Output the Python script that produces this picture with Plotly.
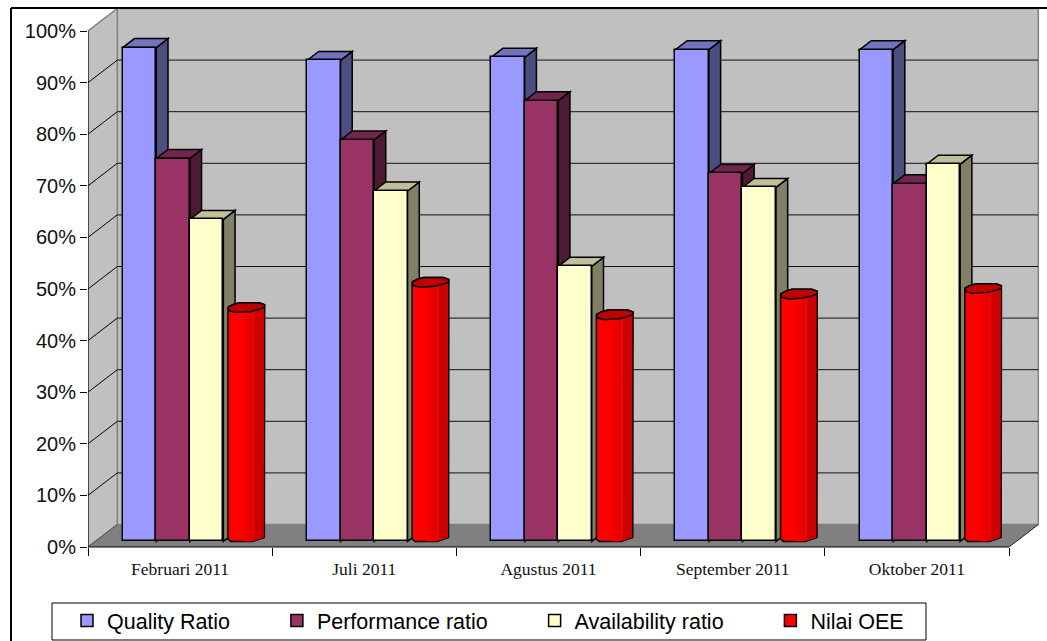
import numpy as np
import plotly.graph_objects as go

# Monthly OEE components, in percent
months = ["Februari 2011", "Juli 2011", "Agustus 2011", "September 2011", "Oktober 2011"]
quality_ratio = [95.7, 93.2, 93.8, 95.3, 95.3]
performance_ratio = [74.2, 77.8, 85.4, 71.3, 69.3]
availability_ratio = [62.4, 67.9, 53.3, 68.6, 73.1]
nilai_oee = [44.4, 49.3, 43.0, 47.0, 48.1]
y_ticks = list(range(0, 101, 10))

# Plot box in page pixels and the data ranges it shows
W, H = 1047, 641
ML, MR, MT, MB = 88, 4, 5, 94
X_MAX = 955 / 184.2
Y_MAX = 542 / 5.16
PX = 184.2   # pixels per category
PY = 5.16    # pixels per percentage point

# Oblique projection: depth 1 is the back wall
WALL_DX = 29.3 / PX
WALL_DY = 22.5 / PY
BAR_DEPTH = 0.40
FRONT_GAP = 0.25
SLOT_START = 0.149 + FRONT_GAP * WALL_DX
BAR_W = 0.182
BASE = FRONT_GAP * WALL_DY


def px_x(px):
    return (px - ML) / (W - ML - MR)


def px_y(py):
    return (H - MB - py) / (H - MT - MB)


def poly(points):
    return "M " + " L ".join(f"{x:.4f},{y:.4f}" for x, y in points) + " Z"


def fill_shape(points, fill, line="rgba(0,0,0,0)", width=1.0):
    return dict(type="path", path=poly(points), xref="x", yref="y", layer="below",
                fillcolor=fill, line=dict(color=line, width=width))


def seg_shape(p, q, color, width=1.0):
    return dict(type="line", x0=p[0], y0=p[1], x1=q[0], y1=q[1], xref="x", yref="y",
                layer="below", line=dict(color=color, width=width))


shapes = []

# Walls and floor of the 3D box
dx, dy = WALL_DX, WALL_DY
shapes.append(fill_shape([(dx, dy), (5 + dx, dy), (5 + dx, 100 + dy), (dx, 100 + dy)], "#C0C0C0", "#808080", 1.5))
shapes.append(fill_shape([(0, 0), (0, 100), (dx, 100 + dy), (dx, dy)], "#C0C0C0", "#808080", 1.5))
for v in y_ticks[1:-1]:
    shapes.append(seg_shape((0, v), (dx, v + dy), "#000000"))
    shapes.append(seg_shape((dx, v + dy), (5 + dx, v + dy), "#111111"))
shapes.append(fill_shape([(0, 0), (5, 0), (5 + dx, dy), (dx, dy)], "#808080"))
shapes.append(seg_shape((0, 0), (dx, dy), "#505050"))
shapes.append(seg_shape((5, 0), (5 + dx, dy), "#202020"))
shapes.append(seg_shape((0, 0), (0, 100), "#000000"))

# Side and top faces of the prismatic columns, painted left to right
prism_series = [
    (quality_ratio, "#4D4D80", "#7373BF"),
    (performance_ratio, "#4D1A33", "#73264D"),
    (availability_ratio, "#808066", "#BFBF99"),
]
ddx, ddy = BAR_DEPTH * WALL_DX, BAR_DEPTH * WALL_DY
for c in range(len(months)):
    for s, (vals, side, top) in enumerate(prism_series):
        left = c + SLOT_START + s * BAR_W
        right = left + BAR_W
        t = vals[c] + BASE
        shapes.append(fill_shape([(right, BASE), (right + ddx, BASE + ddy), (right + ddx, t + ddy), (right, t)],
                                 side, "#000000", 1.5))
        shapes.append(fill_shape([(left, t), (right, t), (right + ddx, t + ddy), (left + ddx, t + ddy)],
                                 top, "#000000", 1.5))

fig = go.Figure()

# Column fronts
names = ["Quality Ratio", "Performance ratio", "Availability ratio", "Nilai OEE"]
pad = "\u00a0" * 7
for s, (vals, color) in enumerate(zip([quality_ratio, performance_ratio, availability_ratio],
                                      ["#9999FF", "#993366", "#FFFFCC"])):
    fig.add_trace(go.Bar(
        x=[c + SLOT_START + (s + 0.5) * BAR_W for c in range(5)], y=vals, base=BASE, width=BAR_W,
        name=names[s] + pad, marker=dict(color=color, line=dict(color="#000000", width=1.5)),
    ))

# Cylinder geometry, as offsets from the axis of the cylinder
CYL_CX = SLOT_START + 3.5 * BAR_W + BAR_DEPTH * WALL_DX / 2
RIM_TOP = np.array([(-18, 0.2), (-13.3, -2.5), (-6.7, -4.5), (13.3, -4.5), (18.7, -2.5)]) / (PX, -PY)
RIM_FRONT = np.array([(18.2, 0.5), (5, 4.2), (-10, 5.2), (-16.7, 3.5), (-18, 0.2)]) / (PX, -PY)
RIM_BOTTOM = np.array([(-18, 2.8), (-15, 5.0), (6.7, 5.0), (13.3, 3.0), (18.4, 1.0)]) / (PX, -PY)
FRONT_DROP = 5.0 / PY

# The OEE series as a column that sits inside the cylinder outline
fig.add_trace(go.Bar(
    x=[c + CYL_CX for c in range(5)], y=nilai_oee, base=BASE + FRONT_DROP, width=32 / PX,
    name=names[3], marker=dict(color="#FF0000", line=dict(color="#000000", width=1.5)),
))


def scatter_polys(polys, fill, line=None):
    xs, ys = [], []
    for p in polys:
        xs += [q[0] for q in p] + [p[0][0], None]
        ys += [q[1] for q in p] + [p[0][1], None]
    fig.add_trace(go.Scatter(
        x=xs, y=ys, mode="lines", fill="toself", fillcolor=fill, hoverinfo="skip", showlegend=False,
        line=dict(color=line if line else "rgba(0,0,0,0)", width=1.5 if line else 0),
    ))


def band(c, off0, off1, v):
    # One vertical shading strip of the cylinder body
    cx = c + CYL_CX
    low = BASE + FRONT_DROP
    high = v + BASE + FRONT_DROP
    bx, by = RIM_BOTTOM[:, 0], RIM_BOTTOM[:, 1]
    fx, fy = RIM_FRONT[::-1, 0], RIM_FRONT[::-1, 1]
    xs = np.linspace(off0, off1, 8) / PX
    bottom = [(cx + x, low + np.interp(x, bx, by)) for x in xs]
    top = [(cx + x, high + np.interp(x, fx, fy)) for x in xs[::-1]]
    return bottom + top


bodies = []
for c, v in enumerate(nilai_oee):
    cx, low, high = c + CYL_CX, BASE + FRONT_DROP, v + BASE + FRONT_DROP
    outline = [(cx + x, low + y) for x, y in RIM_BOTTOM] + [(cx + x, high + y) for x, y in RIM_TOP[::-1]]
    bodies.append(outline)
scatter_polys(bodies, "#FF0000", "#000000")
for off0, off1, color in [(-3, 2, "#F40000"), (2, 7, "#E80000"), (7, 8.5, "#DC1010"),
                          (8.5, 17.5, "#CC0000")]:
    scatter_polys([band(c, off0, off1, v) for c, v in enumerate(nilai_oee)], color)
scatter_polys(
    [[(c + CYL_CX + x, v + BASE + FRONT_DROP + y) for x, y in np.vstack([RIM_TOP, RIM_FRONT])]
     for c, v in enumerate(nilai_oee)],
    "#C00000", "#000000",
)

# Outer frame, front floor edge and legend box in page coordinates
for x0, y0, x1, y1 in [(11, 8, 1047, 8), (11, 8, 11, 641)]:
    shapes.append(dict(type="line", xref="paper", yref="paper", x0=px_x(x0), y0=px_y(y0), x1=px_x(x1), y1=px_y(y1),
                       layer="above", line=dict(color="#000000", width=2)))
shapes.append(dict(type="line", xref="paper", yref="paper", x0=0, y0=0, x1=5 / X_MAX, y1=0,
                   layer="above", line=dict(color="#000000", width=1.2)))
shapes.append(dict(type="rect", xref="paper", yref="paper", x0=px_x(52), y0=px_y(603), x1=px_x(926), y1=px_y(640),
                   layer="above", fillcolor="#FFFFFF", line=dict(color="#000000", width=1)))

fig.update_layout(
    width=W, height=H, autosize=False,
    margin=dict(l=ML, r=MR, t=MT, b=MB, pad=0, autoexpand=False),
    paper_bgcolor="#FFFFFF", plot_bgcolor="rgba(0,0,0,0)",
    barmode="overlay", bargap=0, shapes=shapes,
    font=dict(family="Liberation Sans, Arial, sans-serif", color="#000000"),
    xaxis=dict(
        range=[0, X_MAX], showgrid=False, zeroline=False, showline=False,
        tickmode="array", tickvals=[c + 0.5 for c in range(5)], ticktext=months,
        ticks="", ticklabelstandoff=9,
        tickfont=dict(family="Liberation Serif, Times New Roman, serif", size=17.5, color="#111111"),
        minor=dict(tickmode="array", tickvals=list(range(6)), ticks="outside", ticklen=8, tickcolor="#000000", tickwidth=1),
    ),
    yaxis=dict(
        range=[0, Y_MAX], showgrid=False, zeroline=False, showline=False,
        tickmode="array", tickvals=y_ticks, ticktext=[f"{v}%" for v in y_ticks],
        ticks="outside", ticklen=7, tickcolor="#000000", tickwidth=1,
        tickfont=dict(size=20, color="#111111"),
    ),
    legend=dict(
        orientation="h", x=px_x(67), y=px_y(600), xanchor="left", yanchor="top",
        bgcolor="rgba(0,0,0,0)", borderwidth=0,
        font=dict(size=21.5, color="#000000"), itemclick=False, itemdoubleclick=False,
    ),
)

fig.write_html("out.html")
